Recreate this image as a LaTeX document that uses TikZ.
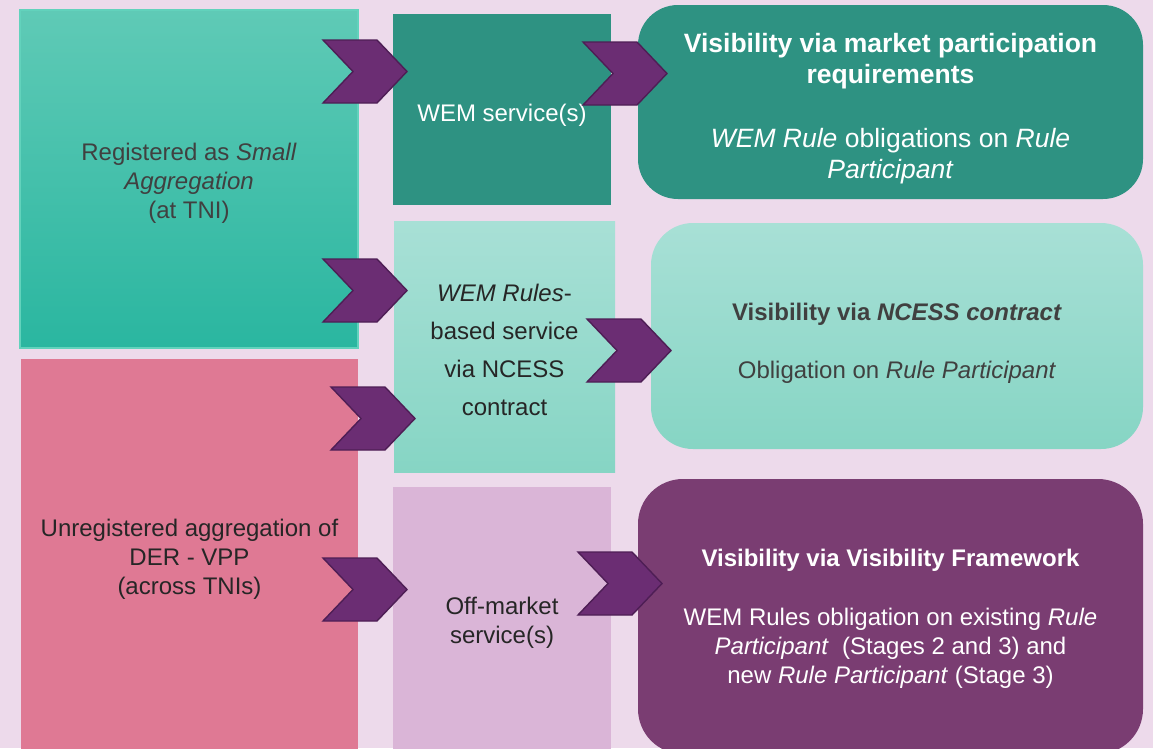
\documentclass[tikz,border=0pt]{standalone}
\usepackage{fontspec}
\setmainfont{Liberation Sans}
\definecolor{bg}{HTML}{EDDAEB}
\definecolor{greentop}{HTML}{5FCAB6}
\definecolor{greenbot}{HTML}{2AB6A0}
\definecolor{greenedge}{HTML}{62D2BC}
\definecolor{pinkbox}{HTML}{DF7994}
\definecolor{darkteal}{HTML}{2E9282}
\definecolor{lighttop}{HTML}{A8E0D6}
\definecolor{lightbot}{HTML}{86D5C4}
\definecolor{lilac}{HTML}{DAB5D7}
\definecolor{plum}{HTML}{7A3D72}
\definecolor{chevfill}{HTML}{6B2D73}
\definecolor{chevedge}{HTML}{4E1E55}
\definecolor{txtgrey}{HTML}{404040}
\definecolor{txtdark}{HTML}{262626}
\begin{document}
\begin{tikzpicture}[x=1pt,y=-1pt,
  box/.style={rectangle, inner sep=0pt, anchor=center},
  label text/.style={inner sep=0pt, align=center, anchor=center},
  body/.style={font=\fontsize{24}{29}\selectfont},
  chevstyle/.style={fill=chevfill, draw=chevedge, line width=1.4pt, line join=miter},
  chevron/.pic={\draw[chevstyle] (0,0) -- (54,0) -- (84,31.5) -- (54,63) -- (0,63) -- (30,31.5) -- cycle;}
]
\useasboundingbox (0,0) rectangle (1153,748);
\fill[bg] (0,0) rectangle (1153,748);
\begin{scope}
\clip (0,0) rectangle (1153,748);
% left column
\node[box, top color=greentop, bottom color=greenbot, draw=greenedge, line width=1.2pt,
      minimum width=338pt, minimum height=338pt] (small) at (189,179) {};
\node[label text, body, text=txtgrey, yshift=-4pt] (smallT) at (small.center)
  {Registered as \textit{Small}\\\textit{Aggregation}\\(at TNI)};
\node[box, fill=pinkbox, minimum width=337pt, minimum height=394pt] (vpp) at (189.5,556) {};
\node[label text, body, text=txtdark, yshift=-3pt] (vppT) at (vpp.center)
  {Unregistered aggregation of\\DER - VPP\\(across TNIs)};
% middle column
\node[box, fill=darkteal, minimum width=218pt, minimum height=191pt] (wem) at (502,109.5) {};
\node[label text, body, text=white, yshift=-6pt] (wemT) at (wem.center) {WEM service(s)};
\node[box, top color=lighttop, bottom color=lightbot,
      minimum width=221pt, minimum height=251pt] (ncess) at (504.5,346.5) {};
\node[label text, font=\fontsize{24}{38}\selectfont, text=txtdark, yshift=-3pt] (ncessT) at (ncess.center)
  {\textit{WEM Rules}-\\based service\\via NCESS\\contract};
\node[box, fill=lilac, minimum width=218pt, minimum height=266pt] (off) at (502,620) {};
\node[label text, body, text=txtdark, yshift=-3pt] (offT) at (off.center)
  {Off-market\\service(s)};
% right column
\node[box, fill=darkteal, rounded corners=40pt,
      minimum width=505pt, minimum height=194pt] (vmarket) at (890.5,102) {};
\node[label text, font=\fontsize{26.5}{31}\selectfont, text=white, yshift=-7pt] (vmarketT) at (vmarket.center)
  {\textbf{Visibility via market participation}\\\textbf{requirements}\\[33pt]\textit{WEM Rule} obligations on \textit{Rule}\\\textit{Participant}};
\node[box, top color=lighttop, bottom color=lightbot, rounded corners=42pt,
      minimum width=492pt, minimum height=226pt] (vncess) at (897,336) {};
\node[label text, body, text=txtgrey, yshift=-7pt] (vncessT) at (vncess.center)
  {\textbf{Visibility via \textit{NCESS contract}}\\[29pt]Obligation on \textit{Rule Participant}};
\node[box, fill=plum, rounded corners=45pt,
      minimum width=505pt, minimum height=275pt] (vframe) at (890.5,616.5) {};
\node[label text, body, text=white, yshift=-2pt] (vframeT) at (vframe.center)
  {\textbf{Visibility via Visibility Framework}\\[30pt]WEM Rules obligation on existing \textit{Rule}\\\textit{Participant}\ \ (Stages 2 and 3) and\\new \textit{Rule Participant} (Stage 3)};
% chevrons
\pic at (323,40) {chevron};
\pic at (323,259) {chevron};
\pic at (331,387) {chevron};
\pic at (323,558) {chevron};
\pic at (583,42) {chevron};
\pic at (587,319) {chevron};
\pic at (578,552) {chevron};
\end{scope}
\end{tikzpicture}
\end{document}
